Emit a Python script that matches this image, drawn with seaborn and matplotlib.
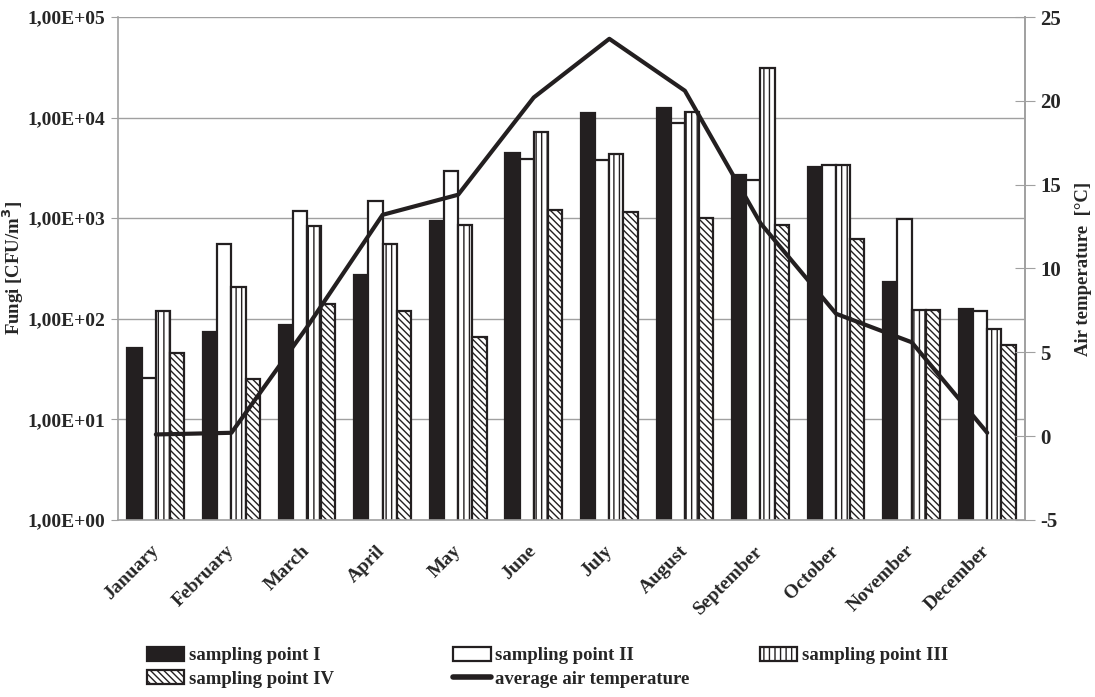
import numpy as np
import pandas as pd
import matplotlib
matplotlib.use("Agg")
import matplotlib.pyplot as plt
import matplotlib.transforms as mtransforms
import seaborn as sns
from matplotlib.patches import Patch
from matplotlib.lines import Line2D
from matplotlib.ticker import FixedLocator, FuncFormatter, NullLocator

# ── data ───────────────────────────────────────────────────
months = ["January", "February", "March", "April", "May", "June", "July",
          "August", "September", "October", "November", "December"]
series_names = ["sampling point I", "sampling point II",
                "sampling point III", "sampling point IV"]
point_I = [51, 74, 87, 272, 935, 4480, 11200, 12580, 2700, 3230, 230, 124]
point_II = [26, 560, 1190, 1490, 2950, 3890, 3790, 8780, 2420, 3350, 975, 120]
point_III = [120, 208, 842, 550, 850, 7250, 4380, 11400, 31000, 3350, 122, 80]
point_IV = [46, 25, 141, 120, 66, 1200, 1160, 1000, 865, 615, 122, 55]
avg_temp = [0.1, 0.2, 6.5, 13.2, 14.4, 20.2, 23.7, 20.6, 12.7, 7.3, 5.6, 0.2]

DARK = "#231f20"
GRID = "#a0a0a0"
HATCH_III = "|||"
HATCH_IV = "\\\\\\\\\\"

sns.set_style("white")
plt.rcParams["font.family"] = ["Liberation Serif", "DejaVu Serif"]
plt.rcParams["font.weight"] = "bold"
plt.rcParams["axes.unicode_minus"] = False
plt.rcParams["hatch.linewidth"] = 1.0
plt.rcParams["hatch.color"] = DARK

df = pd.DataFrame({
    "month": months * 4,
    "series": np.repeat(series_names, len(months)),
    "value": point_I + point_II + point_III + point_IV,
})

fig = plt.figure(figsize=(10.95, 6.97), dpi=100)
ax = fig.add_axes([0.1078, 0.254, 0.8283, 0.7216])

sns.barplot(data=df, x="month", y="value", hue="series", order=months,
            hue_order=series_names, width=0.75, gap=0, errorbar=None,
            legend=False, ax=ax)
ax.set_yscale("log")

styles = [
    dict(facecolor=DARK, hatch=None),
    dict(facecolor="white", hatch=None),
    dict(facecolor="white", hatch=HATCH_III),
    dict(facecolor="white", hatch=HATCH_IV),
]
for cont, st in zip(ax.containers, styles):
    for bar in cont:
        bar.set_facecolor(st["facecolor"])
        bar.set_edgecolor(DARK)
        bar.set_linewidth(1.6)
        if st["hatch"]:
            bar.set_hatch(st["hatch"])

ax.set_ylim(1, 1e5)
ax.set_xlim(-0.5, len(months) - 0.5)
ax.yaxis.set_major_locator(FixedLocator([1, 10, 100, 1e3, 1e4, 1e5]))
ax.yaxis.set_minor_locator(NullLocator())
ax.yaxis.set_major_formatter(FuncFormatter(
    lambda v, p: "1,00E+%02d" % int(round(np.log10(v)))))
ax.grid(axis="y", color=GRID, linewidth=1.0)
ax.grid(axis="x", visible=False)
ax.set_axisbelow(True)

ax.spines["top"].set_visible(False)
for side in ["left", "bottom", "right"]:
    ax.spines[side].set_color(GRID)
    ax.spines[side].set_linewidth(1.2)

ax.set_xlabel("")
ax.set_ylabel("Fungi [CFU/m$^\\mathbf{3}$]", fontsize=13.5, fontweight="bold")
ax.yaxis.set_label_coords(-0.101, 0.5)
ax.tick_params(axis="y", direction="out", length=5, color=GRID,
               labelsize=14, pad=4)
ax.tick_params(axis="x", which="major", length=0, labelsize=14, pad=16)
ax.xaxis.set_minor_locator(FixedLocator(np.arange(len(months) + 1) - 0.5))
ax.tick_params(axis="x", which="minor", direction="out", length=6,
               color=GRID, width=1.2)
shift = mtransforms.ScaledTranslation(-6 / 100, 0, fig.dpi_scale_trans)
for lab in ax.get_xticklabels():
    lab.set_rotation(45)
    lab.set_ha("right")
    lab.set_rotation_mode("anchor")
    lab.set_fontweight("bold")
    lab.set_transform(lab.get_transform() + shift)
for lab in ax.get_yticklabels():
    lab.set_fontweight("bold")

# ── temperature on secondary axis ───────────────────────────
ax2 = ax.twinx()
sns.lineplot(x=np.arange(len(months)), y=avg_temp, ax=ax2, color=DARK,
             linewidth=3.0, legend=False)
ax2.set_xlim(-0.5, len(months) - 0.5)
ax2.set_ylim(-5, 25)
ax2.set_yticks([-5, 0, 5, 10, 15, 20, 25])
ax2.grid(False)
for side in ["top", "left", "bottom"]:
    ax2.spines[side].set_visible(False)
ax2.spines["right"].set_color(GRID)
ax2.spines["right"].set_linewidth(1.2)
ax2.tick_params(axis="y", direction="inout", length=14, color=GRID,
                labelsize=15, pad=4)
for lab in ax2.get_yticklabels():
    lab.set_fontweight("bold")
ax2.set_ylabel("Air temperature  [°C]", fontsize=13.5, fontweight="bold",
               labelpad=10)

# ── legend below the plot, one legend per column ────────────
def bar_handle(face, hatch=None):
    return Patch(facecolor=face, edgecolor=DARK, linewidth=1.6, hatch=hatch)

legend_cols = [
    ([bar_handle(DARK), bar_handle("white", HATCH_IV)],
     ["sampling point I", "sampling point IV"], 0.1342),
    ([bar_handle("white"), Line2D([0], [0], color=DARK, linewidth=4)],
     ["sampling point II", "average air temperature"], 0.4137),
    ([bar_handle("white", HATCH_III)], ["sampling point III"], 0.694),
]
for handles, labels, x0 in legend_cols:
    fig.legend(handles, labels, loc="upper left", bbox_to_anchor=(x0, 0.072),
               ncol=1, frameon=False, handlelength=2.0, handleheight=0.75,
               handletextpad=0.25, labelspacing=0.32, borderaxespad=0,
               borderpad=0, prop={"weight": "bold", "size": 13.5})

fig.savefig("out.png", dpi=100)
